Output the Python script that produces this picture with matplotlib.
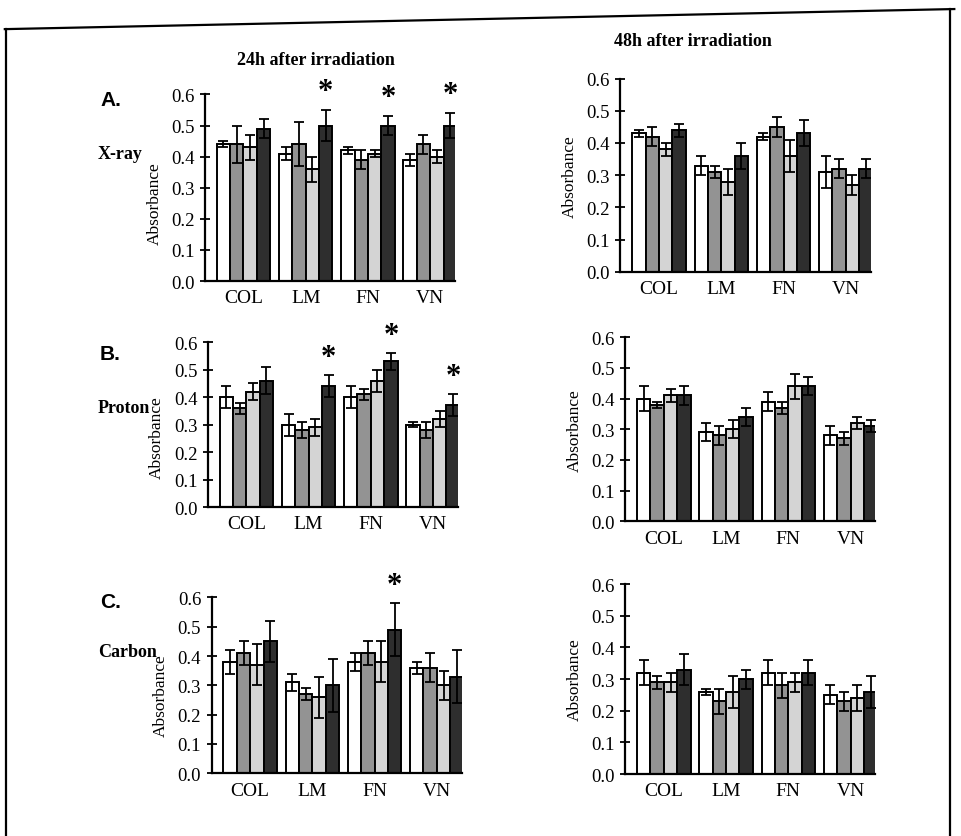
import numpy as np
import matplotlib.pyplot as plt
from matplotlib.lines import Line2D

plt.rcParams['font.family'] = ['Liberation Serif', 'DejaVu Serif']

groups = ['COL', 'LM', 'FN', 'VN']
bar_colors = ['#ffffff', '#939393', '#d4d4d4', '#2e2e2e']

# means (rows = groups, cols = 4 conditions) and error bars
xray_24 = [[0.44, 0.44, 0.43, 0.49], [0.41, 0.44, 0.36, 0.50],
           [0.42, 0.39, 0.41, 0.50], [0.39, 0.44, 0.40, 0.50]]
xray_24_err = [[0.01, 0.06, 0.04, 0.03], [0.02, 0.07, 0.04, 0.05],
               [0.01, 0.03, 0.01, 0.03], [0.02, 0.03, 0.02, 0.04]]
xray_48 = [[0.43, 0.42, 0.38, 0.44], [0.33, 0.31, 0.28, 0.36],
           [0.42, 0.45, 0.36, 0.43], [0.31, 0.32, 0.27, 0.32]]
xray_48_err = [[0.01, 0.03, 0.02, 0.02], [0.03, 0.02, 0.04, 0.04],
               [0.01, 0.03, 0.05, 0.04], [0.05, 0.03, 0.03, 0.03]]
proton_24 = [[0.40, 0.36, 0.42, 0.46], [0.30, 0.28, 0.29, 0.44],
             [0.40, 0.41, 0.46, 0.53], [0.30, 0.28, 0.32, 0.37]]
proton_24_err = [[0.04, 0.02, 0.03, 0.05], [0.04, 0.03, 0.03, 0.04],
                 [0.04, 0.02, 0.04, 0.03], [0.01, 0.03, 0.03, 0.04]]
proton_48 = [[0.40, 0.38, 0.41, 0.41], [0.29, 0.28, 0.30, 0.34],
             [0.39, 0.37, 0.44, 0.44], [0.28, 0.27, 0.32, 0.31]]
proton_48_err = [[0.04, 0.01, 0.02, 0.03], [0.03, 0.03, 0.03, 0.03],
                 [0.03, 0.02, 0.04, 0.03], [0.03, 0.02, 0.02, 0.02]]
carbon_24 = [[0.38, 0.41, 0.37, 0.45], [0.31, 0.27, 0.26, 0.30],
             [0.38, 0.41, 0.38, 0.49], [0.36, 0.36, 0.30, 0.33]]
carbon_24_err = [[0.04, 0.04, 0.07, 0.07], [0.03, 0.02, 0.07, 0.09],
                 [0.03, 0.04, 0.07, 0.09], [0.02, 0.05, 0.05, 0.09]]
carbon_48 = [[0.32, 0.29, 0.29, 0.33], [0.26, 0.23, 0.26, 0.30],
             [0.32, 0.28, 0.29, 0.32], [0.25, 0.23, 0.24, 0.26]]
carbon_48_err = [[0.04, 0.02, 0.03, 0.05], [0.01, 0.04, 0.05, 0.03],
                 [0.04, 0.04, 0.03, 0.04], [0.03, 0.03, 0.04, 0.05]]

# significance stars: groups with * over the dark bar
xray_24_stars = ['LM', 'FN', 'VN']
proton_24_stars = ['LM', 'FN', 'VN']
carbon_24_stars = ['FN']

yticks = [0.0, 0.1, 0.2, 0.3, 0.4, 0.5, 0.6]

fig = plt.figure(figsize=(9.62, 8.37), dpi=100)


def panel(rect, means, errs, stars=(), label_y=0.5):
    ax = fig.add_axes(rect)
    means = np.array(means)
    errs = np.array(errs)
    x = np.arange(len(groups))
    w = 0.215
    for i in range(4):
        pos = x + (i - 1.5) * w
        ax.bar(pos, means[:, i], w, color=bar_colors[i], edgecolor='black',
               linewidth=1.4, zorder=2)
        ax.errorbar(pos, means[:, i], yerr=errs[:, i], fmt='none',
                    ecolor='black', elinewidth=1.3, capsize=3.5,
                    capthick=1.3, zorder=3)
    for g in stars:
        k = groups.index(g)
        top = means[k, 3] + errs[k, 3]
        ax.text(x[k] + 1.5 * w, top + 0.012, '*', ha='center', va='bottom',
                fontsize=22, fontweight='bold')
    ax.set_xlim(-0.62, 3.4)
    ax.set_ylim(0, 0.6)
    ax.set_yticks(yticks)
    ax.set_yticklabels(['%.1f' % t for t in yticks], fontsize=13.5)
    ax.set_xticks(x)
    ax.set_xticklabels(groups, fontsize=14)
    ax.tick_params(axis='x', length=0, pad=6)
    ax.tick_params(axis='y', direction='inout', length=7, width=1.3, pad=4)
    ax.set_ylabel('Absorbance', fontsize=12.5)
    ax.yaxis.set_label_coords(-0.17, label_y)
    for s in ['top', 'right']:
        ax.spines[s].set_visible(False)
    for s in ['left', 'bottom']:
        ax.spines[s].set_linewidth(1.6)
    ax.patch.set_alpha(0)
    return ax


W = 0.26
panel([0.213, 0.663, W, 0.223], xray_24, xray_24_err, xray_24_stars, 0.42)
panel([0.645, 0.674, W, 0.231], xray_48, xray_48_err)
panel([0.216, 0.393, W, 0.197], proton_24, proton_24_err, proton_24_stars,
      0.43)
panel([0.650, 0.376, W, 0.220], proton_48, proton_48_err)
panel([0.220, 0.075, W, 0.210], carbon_24, carbon_24_err, carbon_24_stars,
      0.45)
panel([0.650, 0.074, W, 0.227], carbon_48, carbon_48_err)

fig.text(0.328, 0.928, '24h after irradiation', ha='center', va='center',
         fontsize=13, fontweight='bold')
fig.text(0.72, 0.95, '48h after irradiation', ha='center', va='center',
         fontsize=13, fontweight='bold')

for lab, y in [('A.', 0.880), ('B.', 0.576), ('C.', 0.280)]:
    fig.text(0.104, y, lab, ha='left', va='center', fontsize=15,
             fontweight='bold', family=['Liberation Sans', 'DejaVu Sans'])
for lab, y in [('X-ray', 0.815), ('Proton', 0.5125), ('Carbon', 0.221)]:
    fig.text(0.102, y, lab, ha='left', va='center', fontsize=13,
             fontweight='bold')

# scanned frame around the figure
frame = [((0.005, 0.964), (0.992, 0.988)),
         ((0.006, 0.964), (0.006, 0.0)),
         ((0.988, 0.988), (0.988, 0.0))]
for (x0, y0), (x1, y1) in frame:
    fig.add_artist(Line2D([x0, x1], [y0, y1], color='black', lw=1.6,
                          transform=fig.transFigure))

fig.savefig('out.png', dpi=100)
